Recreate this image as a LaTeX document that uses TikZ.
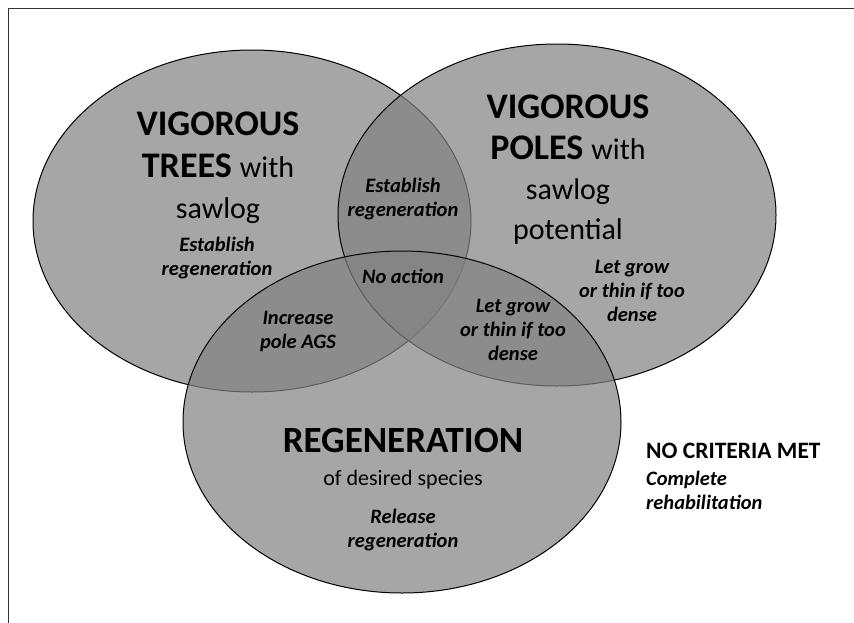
\documentclass[tikz,border=0pt]{standalone}
\usepackage{fontspec}
\setmainfont{Carlito}
\usetikzlibrary{shapes.geometric, positioning}
\definecolor{venngray}{RGB}{130,130,130}
\definecolor{framegray}{RGB}{50,50,50}
\newcommand{\headfont}{\fontsize{36}{42}\selectfont\bfseries}
\newcommand{\withfont}{\fontsize{30}{40}\selectfont\mdseries}
\newcommand{\actfont}{\fontsize{20.5}{24}\selectfont\bfseries\itshape}
\newcommand{\speciesfont}{\fontsize{22}{26}\selectfont}
\tikzset{
  venn/.style={ellipse, draw=black, line width=1pt, fill=venngray, fill opacity=0.71,
    minimum width=438pt, minimum height=342pt, inner sep=0pt},
  headline/.style={font=\headfont, anchor=base, inner sep=0pt},
  subline/.style={font=\withfont, anchor=base, inner sep=0pt},
  actline/.style={font=\actfont, anchor=base, inner sep=0pt, align=center},
  critline/.style={anchor=base west, inner sep=0pt}
}

\begin{document}
\begin{tikzpicture}[x=1pt, y=-1pt]
    \useasboundingbox (0,0) rectangle (854,622);
    \draw[framegray, line width=0.8pt] (8,640) -- (8,8) -- (870,8);

    % the three sets
    \node (trees) [venn] at (252,221) {};
    \node (poles) [venn] at (557,215) {};
    \node (regen) [venn] at (402,422) {};

    % vigorous trees
    \node (treeshead) [headline] at (218,135) {VIGOROUS};
    \node (treeshead2) [headline] at (218,177) {TREES {\withfont with}};
    \node (treessaw) [subline] at (218,218) {sawlog};
    \node (treesact) [actline] at (217,275) {Establish\\regeneration};

    % vigorous poles
    \node (poleshead) [headline] at (568,118) {VIGOROUS};
    \node (poleshead2) [headline] at (568,159) {POLES {\withfont with}};
    \node (polessaw) [subline] at (568,199) {sawlog};
    \node (polespot) [subline] at (568,239) {potential};
    \node (polesact) [actline] at (632,321) {Let grow\\or thin if too\\dense};

    % overlaps
    \node (tpact) [actline] at (403,216) {Establish\\regeneration};
    \node (allact) [actline] at (403,283) {No action};
    \node (tract) [actline] at (298,348) {Increase\\pole AGS};
    \node (pract) [actline] at (513,360) {Let grow\\or thin if too\\dense};

    % regeneration
    \node (regenhead) [headline, font=\fontsize{37}{42}\selectfont\bfseries] at (403,452) {REGENERATION};
    \node (regensub) [anchor=base, inner sep=0pt, font=\speciesfont] at (403,485) {of desired species};
    \node (regenact) [actline] at (403,547) {Release\\regeneration};

    % outside all sets
    \node (nocrit) [critline, font=\fontsize{23.5}{26}\selectfont\bfseries] at (646,458) {NO CRITERIA MET};
    \node (nocritact) [critline, font=\actfont, align=left] at (646,509) {Complete\\rehabilitation};
\end{tikzpicture}
\end{document}
